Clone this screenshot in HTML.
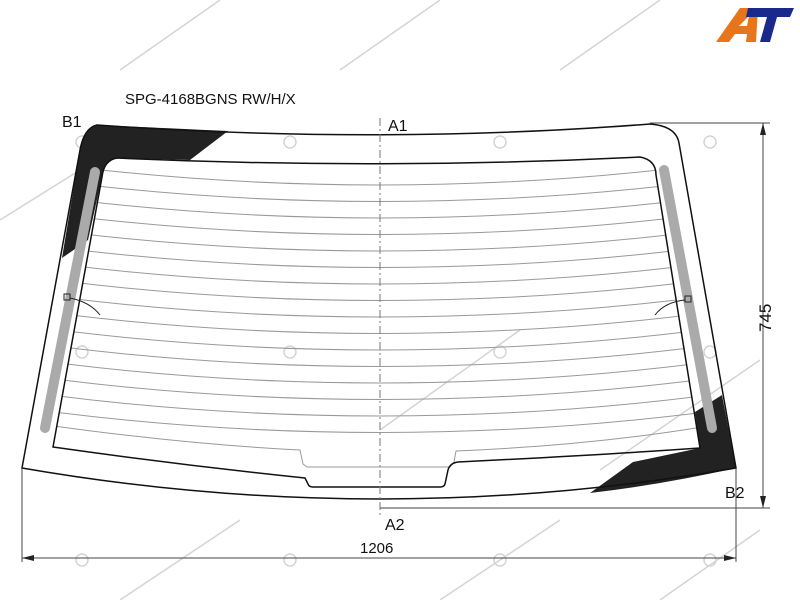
<!DOCTYPE html>
<html><head><meta charset="utf-8"><style>
html,body{margin:0;padding:0;background:#fff;}
svg{display:block;font-family:"Liberation Sans",sans-serif;}
</style></head><body>
<svg width="800" height="600" viewBox="0 0 800 600" xmlns="http://www.w3.org/2000/svg">
<defs>
<clipPath id="inner"><path d="M117 158 Q380 170 640 157 Q656 160 656 175 L700 448 Q600 455 458 462 L448 480 L443 487 L310 487 L305 478 Q180 465 53 447 L102 177 Q104 160 117 158 Z"/></clipPath>
</defs>
<!-- watermark hints -->
<g stroke="#d4d4d4" stroke-width="1.5" fill="none">
<path d="M120 70 L220 0 M340 70 L440 0 M560 70 L660 0"/>
<path d="M0 220 L80 170 M380 430 L520 330 M440 600 L560 520 M600 470 L760 360 M120 600 L240 520 M660 600 L760 530"/>
<circle cx="82" cy="142" r="6"/><circle cx="290" cy="142" r="6"/><circle cx="500" cy="142" r="6"/><circle cx="710" cy="142" r="6"/>
<circle cx="82" cy="352" r="6"/><circle cx="290" cy="352" r="6"/><circle cx="500" cy="352" r="6"/><circle cx="710" cy="352" r="6"/>
<circle cx="82" cy="560" r="6"/><circle cx="290" cy="560" r="6"/><circle cx="500" cy="560" r="6"/><circle cx="710" cy="560" r="6"/>
</g>
<!-- black ceramic -->
<path d="M97 125 Q120 126 228 131 L190 160 L117 158 Q104 160 102 177 L88 240 L62 258 L80 150 Q84 128 97 125 Z" fill="#222"/>
<path d="M722 395 L736 468 Q660 485 590 493 L633 462 L700 448 L695 412 Z" fill="#222"/>
<!-- heating lines -->
<g clip-path="url(#inner)" stroke="#999" stroke-width="1" fill="none">
<path d="M20 160 Q380 210 740 160"/><path d="M20 176.5 Q380 226.5 740 176.5"/>
<path d="M20 193 Q380 243 740 193"/><path d="M20 209.5 Q380 259.5 740 209.5"/>
<path d="M20 226 Q380 276 740 226"/><path d="M20 242.5 Q380 292.5 740 242.5"/>
<path d="M20 259 Q380 309 740 259"/><path d="M20 275.5 Q380 325.5 740 275.5"/>
<path d="M20 292 Q380 342 740 292"/><path d="M20 308.5 Q380 358.5 740 308.5"/>
<path d="M20 325 Q380 375 740 325"/><path d="M20 341.5 Q380 391.5 740 341.5"/>
<path d="M20 358 Q380 408 740 358"/><path d="M20 374.5 Q380 424.5 740 374.5"/>
<path d="M20 391 Q380 441 740 391"/><path d="M20 407.5 Q380 457.5 740 407.5"/>
<path d="M40 424 Q180 444 300 450 L303 464 L307 467 L450 467 L454 462 L456 451 Q600 445 720 424"/>
</g>
<!-- grey bars -->
<line x1="95" y1="172" x2="45" y2="428" stroke="#aaa" stroke-width="10" stroke-linecap="round"/>
<line x1="664" y1="170" x2="712" y2="428" stroke="#aaa" stroke-width="10" stroke-linecap="round"/>
<!-- connectors -->
<g stroke="#222" stroke-width="1" fill="none">
<rect x="64" y="294" width="6" height="6"/><path d="M70 298 Q90 302 100 315"/>
<rect x="685" y="296" width="6" height="6"/><path d="M685 300 Q665 302 655 315"/>
</g>
<!-- glass outline -->
<path d="M97 125 Q380 145 650 124 Q676 126 679 143 L736 468 Q380 530 22 468 L80 150 Q84 128 97 125 Z" fill="none" stroke="#111" stroke-width="1.5"/>
<path d="M117 158 Q380 170 640 157 Q656 160 656 175 L700 448 Q600 455 458 462 Q450 463 448 470 L445 484 Q444 487 440 487 L313 487 Q309 487 308 484 L305 478 Q180 465 53 447 L102 177 Q104 160 117 158 Z" fill="none" stroke="#111" stroke-width="1.5"/>
<!-- center line -->
<line x1="380" y1="118" x2="380" y2="515" stroke="#777" stroke-width="1" stroke-dasharray="8,3,2,3"/>
<!-- dimensions -->
<g stroke="#444" stroke-width="1" fill="none">
<line x1="650" y1="123" x2="770" y2="123"/>
<line x1="380" y1="508" x2="770" y2="508"/>
<line x1="763" y1="123" x2="763" y2="508"/>
<line x1="22" y1="468" x2="22" y2="562"/>
<line x1="736" y1="468" x2="736" y2="562"/>
<line x1="22" y1="558" x2="736" y2="558"/>
</g>
<g fill="#222">
<path d="M763 123 L760 135 L766 135 Z"/><path d="M763 508 L760 496 L766 496 Z"/>
<path d="M22 558 L34 555 L34 561 Z"/><path d="M736 558 L724 555 L724 561 Z"/>
</g>
<g fill="#111" font-size="16">
<text x="125" y="104" font-size="15">SPG-4168BGNS RW/H/X</text>
<text x="62" y="127">B1</text>
<text x="388" y="131">A1</text>
<text x="385" y="530">A2</text>
<text x="725" y="498">B2</text>
<text x="360" y="553" font-size="15">1206</text>
<text transform="translate(771,332) rotate(-90)" font-size="17">745</text>
</g>
<!-- logo -->
<path d="M716 42 L740 8 L758 8 L756 42 L746 42 L747 34 L735 34 L729 42 Z M739 26 L747 26 L749 16 Z" fill="#e8751a" fill-rule="evenodd"/>
<path d="M748 8 L794 8 L790 17 L777 17 L770 42 L760 42 L767 17 L746 17 Z" fill="#1a2a8c"/>
</svg>
</body></html>
